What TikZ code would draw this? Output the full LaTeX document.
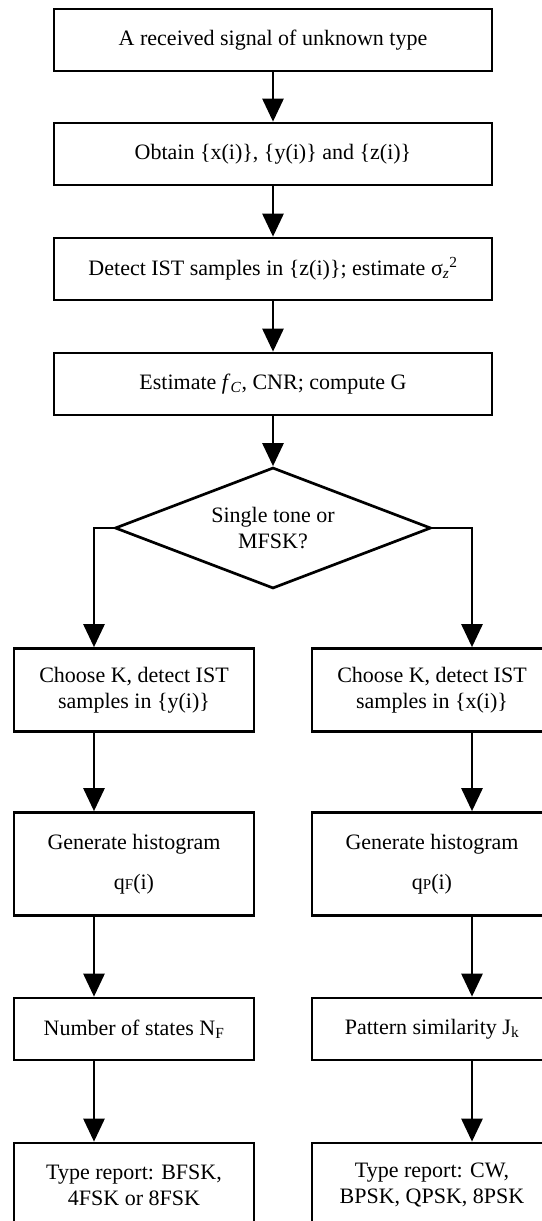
\documentclass[tikz,border=0pt]{standalone}
\usepackage{fontspec}
\setmainfont{Liberation Serif}
\usetikzlibrary{arrows.meta,shapes.geometric}
\begin{document}
\begin{tikzpicture}[x=1pt,y=-1pt,
  box/.style={draw,line width=2.7pt,minimum width=438pt,minimum height=62pt,inner sep=0pt,align=center,font=\fontsize{22}{26}\selectfont},
  sidebox/.style={box,minimum width=240pt},
  flow/.style={line width=2.7pt,-{Triangle[width=21pt,length=23pt]}}]
\useasboundingbox (0,0) rectangle (541,1221);
\node[box] (recv) at (273,40) {A received signal of unknown type};
\node[box] (obtain) at (273,154) {Obtain \{x(i)\}, \{y(i)\} and \{z(i)\}};
\node[box] (ist) at (273,269) {Detect IST samples in \{z(i)\}; estimate σ\textsubscript{\textit{z}}\textsuperscript{2}};
\node[box] (est) at (273,384) {Estimate \textit{f}\textsubscript{\textit{C}}, CNR; compute G};
\node[box,diamond,aspect=2.6,minimum width=316pt,minimum height=121pt] (tone) at (273,528) {Single tone or\\MFSK?};
\node[sidebox,minimum height=83pt] (chooseL) at (134,690) {Choose K, detect IST\\samples in \{y(i)\}};
\node[sidebox,minimum height=83pt] (chooseR) at (432,690) {Choose K, detect IST\\samples in \{x(i)\}};
\node[sidebox,minimum height=103pt] (histL) at (134,864) {Generate histogram\\[14pt]q{\fontsize{15}{18}\selectfont F}(i)};
\node[sidebox,minimum height=103pt] (histR) at (432,864) {Generate histogram\\[14pt]q{\fontsize{15}{18}\selectfont P}(i)};
\node[sidebox] (statesL) at (134,1029) {Number of states N\textsubscript{F}};
\node[sidebox] (patternR) at (432,1029) {Pattern similarity J\textsubscript{k}};
\node[sidebox,minimum height=84pt] (typeL) at (134,1185) {Type report: BFSK,\\4FSK or 8FSK};
\node[sidebox,minimum height=84pt] (typeR) at (432,1185) {Type report: CW,\\BPSK, QPSK, 8PSK};
\coordinate (lturn) at (94,528);
\coordinate (rturn) at (472,528);
\draw[flow] (recv) -- (obtain);
\draw[flow] (obtain) -- (ist);
\draw[flow] (ist) -- (est);
\draw[flow] (est) -- (tone);
\draw[flow] (tone.west) -- (lturn) -- (lturn |- chooseL.north);
\draw[flow] (tone.east) -- (rturn) -- (rturn |- chooseR.north);
\draw[flow] (lturn |- chooseL.south) -- (lturn |- histL.north);
\draw[flow] (rturn |- chooseR.south) -- (rturn |- histR.north);
\draw[flow] (lturn |- histL.south) -- (lturn |- statesL.north);
\draw[flow] (rturn |- histR.south) -- (rturn |- patternR.north);
\draw[flow] (lturn |- statesL.south) -- (lturn |- typeL.north);
\draw[flow] (rturn |- patternR.south) -- (rturn |- typeR.north);
\end{tikzpicture}
\end{document}
